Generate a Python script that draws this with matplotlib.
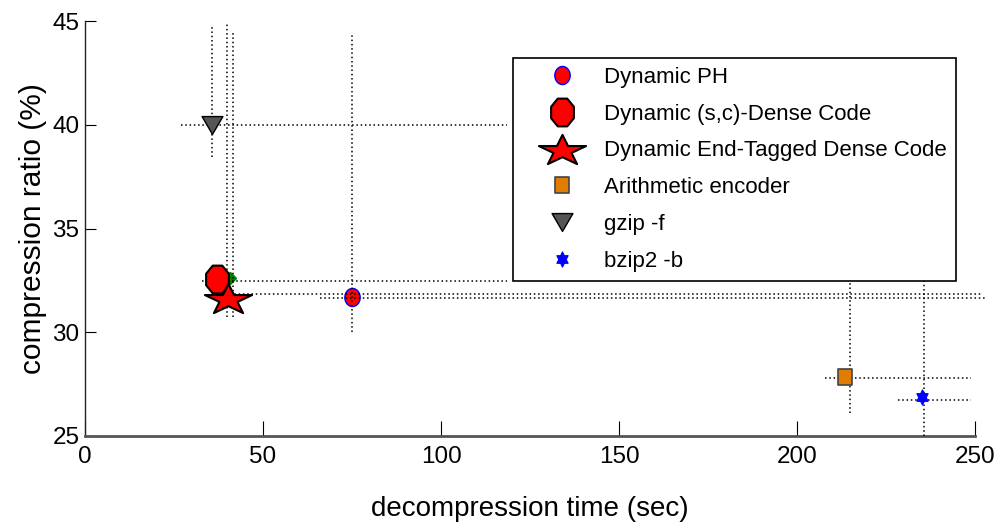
import numpy as np
import matplotlib
matplotlib.use("Agg")
import matplotlib.pyplot as plt
from matplotlib.path import Path

plt.rcParams["font.family"] = ["Liberation Sans", "DejaVu Sans"]

# ---- data -------------------------------------------------------------
methods = ["Dynamic PH", "Dynamic (s,c)-Dense Code", "Dynamic End-Tagged Dense Code",
           "Arithmetic encoder", "gzip -f", "bzip2 -b"]
dec_time = [75.0, 37.0, 40.2, 213.6, 35.8, 235.0]       # seconds
comp_ratio = [31.68, 32.56, 31.67, 27.82, 40.0, 26.87]  # percent

# spread of the measurements (dotted ranges)
hbar_ratio = [31.67, 32.45, 31.86, 27.80, 40.0, 26.73]
time_lo = [66.0, 32.8, 36.0, 208.0, 26.9, 228.5]
time_hi = [253.0, 118.4, 251.9, 248.8, 118.4, 249.0]
vbar_time = [75.0, 41.5, 40.0, 214.9, 35.8, 235.6]
ratio_lo = [30.0, 30.75, 30.75, 26.12, 38.46, 25.0]
ratio_hi = [44.4, 44.4, 44.9, 33.72, 44.7, 32.68]

# extra run partly hidden behind the (s,c)-DC marker
extra_time = [40.7]
extra_ratio = [32.6]

x_ticks = [0, 50, 100, 150, 200, 250]
y_ticks = [25, 30, 35, 40, 45]


# ---- marker shapes ----------------------------------------------------
def centered(pts):
    pts = np.asarray(pts, float)
    mn, mx = pts.min(axis=0), pts.max(axis=0)
    pts = pts - (mn + mx) / 2
    pts = np.vstack([pts, pts[:1]])
    return Path(pts, closed=True)


def ellipse(sx, sy, n=48):
    a = np.linspace(0, 2 * np.pi, n, endpoint=False)
    return centered(np.c_[sx * np.cos(a), sy * np.sin(a)])


def polygon(n, rot, sx, sy):
    a = np.deg2rad(rot + 360.0 / n * np.arange(n))
    return centered(np.c_[sx * np.cos(a), sy * np.sin(a)])


def star(n, inner, sx, sy):
    a = np.deg2rad(90 + 180.0 / n * np.arange(2 * n))
    r = np.where(np.arange(2 * n) % 2 == 0, 1.0, inner)
    return centered(np.c_[sx * r * np.cos(a), sy * r * np.sin(a)])


styles = [
    dict(marker=ellipse(0.85, 1.0), markersize=13, mfc="red", mec="blue", mew=1.0),
    dict(marker=polygon(8, 22.5, 0.82, 1.0), markersize=20, mfc="red", mec="black", mew=1.5),
    dict(marker=star(5, 0.382, 1.0, 0.65), markersize=34, mfc="red", mec="black", mew=1.5),
    dict(marker=polygon(4, 45, 0.875, 1.0), markersize=11.5, mfc="#e07c00", mec="#444444", mew=1.2),
    dict(marker=polygon(3, -90, 1.0, 0.99), markersize=15, mfc="#555555", mec="black", mew=1.0),
    dict(marker=star(6, 0.577, 0.85, 1.0), markersize=11, mfc="blue", mec="blue", mew=0.8),
]

# ---- figure -----------------------------------------------------------
fig = plt.figure(figsize=(9.96, 5.26), dpi=100)
W, H = 996, 526
ax = fig.add_axes([85 / W, 1 - 436 / H, 890 / W, 415 / H])

dot = dict(color="black", linestyle=(0, (1, 1.8)), linewidth=1.1, clip_on=False)

handles = []
for i, name in enumerate(methods):
    z_mark = 2 if i == 0 else 4
    (h,) = ax.plot([dec_time[i]], [comp_ratio[i]], linestyle="none",
                   label=name, zorder=z_mark, **styles[i])
    handles.append(h)
    ax.hlines(hbar_ratio[i], time_lo[i], time_hi[i], zorder=3, **dot)
    ax.vlines(vbar_time[i], ratio_lo[i], ratio_hi[i], zorder=3, **dot)

ax.plot(extra_time, extra_ratio, linestyle="none", marker="D", markersize=6,
        mfc="green", mec="green", zorder=1.5)

ax.set_xlim(0, 250)
ax.set_ylim(25, 45)
ax.set_xticks(x_ticks)
ax.set_yticks(y_ticks)
ax.tick_params(axis="both", direction="in", labelsize=17.5, color="black")
ax.tick_params(axis="x", length=11, pad=7)
ax.tick_params(axis="y", length=8, pad=4)
for s in ("top", "right"):
    ax.spines[s].set_visible(False)
ax.spines["bottom"].set_color("#555555")
ax.spines["bottom"].set_linewidth(2.0)
ax.spines["left"].set_color("#222222")
ax.spines["left"].set_linewidth(1.0)

ax.set_xlabel("decompression time (sec)", fontsize=20, labelpad=20)
ax.set_ylabel("compression ratio (%)", fontsize=21.5, labelpad=4)

leg = ax.legend(handles=handles, loc="upper left",
                bbox_to_anchor=(513 / W, 1 - 58 / H), bbox_transform=fig.transFigure,
                borderaxespad=0, fontsize=16, frameon=True, fancybox=False,
                framealpha=1, edgecolor="black", handlelength=3.6,
                handletextpad=0.1, labelspacing=0.71, borderpad=0.4, numpoints=1)
leg.get_frame().set_linewidth(1.2)
leg.set_zorder(10)

fig.savefig("out.png", dpi=100)
